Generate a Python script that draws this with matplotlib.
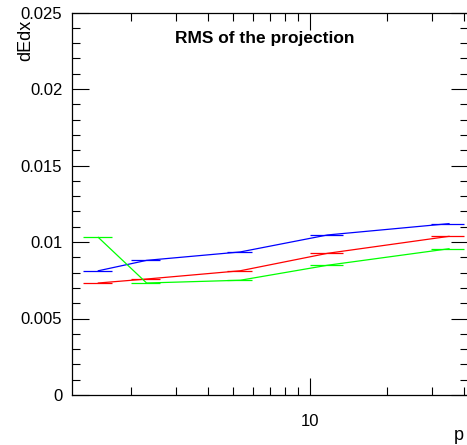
import matplotlib
matplotlib.use('Agg')
import matplotlib.pyplot as plt
from matplotlib.ticker import MultipleLocator, LogLocator, NullFormatter, FuncFormatter

# data
p = [1.49, 2.30, 5.34, 11.7, 34.9]
p_err = [0.19, 0.30, 0.60, 1.7, 5.2]
rms_blue = [0.00812, 0.00880, 0.00935, 0.01046, 0.01120]
rms_red = [0.00732, 0.00758, 0.00812, 0.00926, 0.01037]
rms_green = [0.01030, 0.00732, 0.00750, 0.00848, 0.00956]

plt.rcParams['font.family'] = ['Liberation Sans', 'DejaVu Sans']

fig = plt.figure(figsize=(4.67, 4.45), dpi=100)
ax = fig.add_axes([72 / 467, 50 / 445, 396 / 467, 382.5 / 445])

for vals, col in [(rms_blue, 'blue'), (rms_red, 'red'), (rms_green, '#00ff00')]:
    ax.errorbar(p, vals, xerr=p_err, color=col, lw=0.9, elinewidth=0.9, capsize=0)

ax.set_xscale('log')
ax.set_xlim(1.176, 41.4)
ax.set_ylim(0, 0.025)

ax.xaxis.set_major_locator(LogLocator(base=10))
ax.xaxis.set_minor_locator(LogLocator(base=10, subs=range(2, 10)))
ax.xaxis.set_major_formatter(FuncFormatter(lambda v, pos: '%g' % v))
ax.xaxis.set_minor_formatter(NullFormatter())
ax.yaxis.set_major_locator(MultipleLocator(0.005))
ax.yaxis.set_minor_locator(MultipleLocator(0.001))
ax.yaxis.set_major_formatter(FuncFormatter(lambda v, pos: '%g' % round(v, 4)))

ax.tick_params(which='both', direction='in', top=True, right=True, labelsize=12, width=0.8)
ax.tick_params(which='major', length=12)
ax.tick_params(which='minor', length=6)
ax.tick_params(axis='y', pad=7)
ax.tick_params(axis='x', pad=14)
for s in ax.spines.values():
    s.set_linewidth(0.9)

fig.text(265 / 467, 1 - 39 / 445, 'RMS of the projection', fontsize=12.5,
         fontweight='bold', ha='center', va='center')
fig.text(26 / 467, 1 - 20 / 445, 'dEdx', rotation=90, fontsize=13, ha='center', va='top')
fig.text(454 / 467, 5 / 445, 'p', fontsize=13, ha='left', va='baseline')

fig.savefig('out.png', dpi=100)
